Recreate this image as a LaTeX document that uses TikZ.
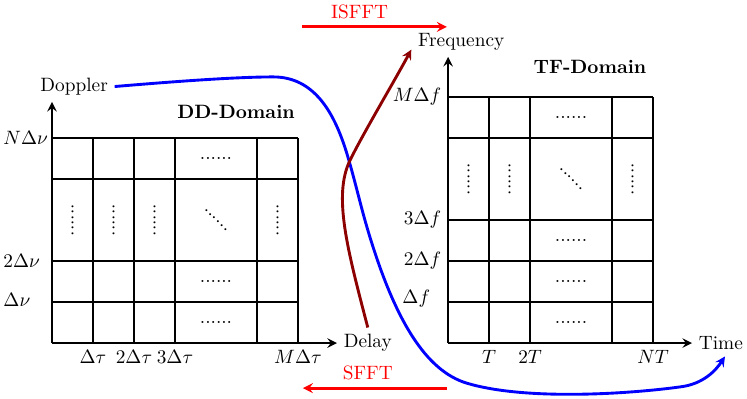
\documentclass[tikz,border=0pt]{standalone}
\begin{document}
\begin{tikzpicture}[>=stealth,
  every node/.style={scale=1.34},
  cell/.style={line width=1.1pt},
  ax/.style={->, line width=1.9pt},
  dts/.style={inner sep=0pt},
  flow/.style={->, line width=2pt}]
\useasboundingbox (-1.268,-1.341) rectangle (16.95,8.366);
% DD grid
\foreach \x in {1,2,3,5,6} \draw[cell] (\x,0) -- (\x,5);
\foreach \y in {1,2,4,5} \draw[cell] (0,\y) -- (6,\y);
\coordinate (o1) at (0,0);
\coordinate (x1) at (6.95,0);
\coordinate (y1) at (0,5.88);
\draw[ax] (o1) -- (x1);
\draw[ax] (o1) -- (y1);
\node[right] (del) at (x1) {Delay};
\node[anchor=south] (dop) at (0.54,5.88) {Doppler};
\node (ddt) at (4.49,5.63) {\bfseries DD-Domain};
\node[anchor=west] (nv) at (-1.35,5) {$N\Delta\nu$};
\node[anchor=west] (v2) at (-1.35,2) {$2\Delta\nu$};
\node[anchor=west] (v1) at (-1.35,1.05) {$\Delta\nu$};
\node[below] (t1) at (1,0) {$\Delta\tau$};
\node[below] (t2) at (2,0) {$2\Delta\tau$};
\node[below] (t3) at (3,0) {$3\Delta\tau$};
\node[below] (tm) at (6,0) {$M\Delta\tau$};
\foreach \y [count=\i] in {0.5,1.5,4.5} \node[dts] (hd\i) at (4,\y) {......};
\foreach \x [count=\i] in {0.5,1.5,2.5,5.5} \node[dts, rotate=90] (vd\i) at (\x,3) {......};
\node[dts, rotate=-45] (dg1) at (4,3) {......};
% TF grid
\begin{scope}[xshift=9.66cm]
\foreach \x in {1,2,4,5} \draw[cell] (\x,0) -- (\x,6);
\foreach \y in {1,2,3,5,6} \draw[cell] (0,\y) -- (5,\y);
\coordinate (o2) at (0,0);
\coordinate (x2) at (5.95,0);
\coordinate (y2) at (0,6.98);
\draw[ax] (o2) -- (x2);
\draw[ax] (o2) -- (y2);
\node[right] (time) at (x2) {Time};
\node[anchor=south] (freq) at (0.32,6.98) {Frequency};
\node (tft) at (3.46,6.73) {\bfseries TF-Domain};
\node[left] (fm) at (0,6) {$M\Delta f$};
\node[left] (f3) at (0,3) {$3\Delta f$};
\node[left] (f2) at (0,2) {$2\Delta f$};
\node[anchor=west] (f1) at (-1.28,1.07) {$\Delta f$};
\node[below] (s1) at (1,0) {$T$};
\node[below] (s2) at (2,0) {$2T$};
\node[below] (sn) at (5,0) {$NT$};
\foreach \y [count=\i] in {0.5,1.5,2.5,5.5} \node[dts] (hf\i) at (3,\y) {......};
\foreach \x [count=\i] in {0.5,1.5,4.5} \node[dts, rotate=90] (vf\i) at (\x,4) {......};
\node[dts, rotate=-45] (dg2) at (3,4) {......};
\end{scope}
% transforms
\coordinate (isA) at (6.10,7.71);
\coordinate (isB) at (9.63,7.71);
\coordinate (sfA) at (9.63,-1.10);
\coordinate (sfB) at (6.12,-1.10);
\draw[flow, red] (isA) -- node[above, xshift=-0.27cm] (isfft) {ISFFT} (isB);
\draw[flow, red] (sfA) -- node[above, xshift=-0.13cm] (sfft) {SFFT} (sfB);
\draw[flow, blue] (dop.east) .. controls (3,6.38) and (4.5,6.49) .. (5.4,6.49)
  .. controls (6.4,6.49) and (6.85,5.6) .. (7.1,4.9)
  .. controls (7.3,4.34) and (7.5,3.44) .. (7.68,2.83)
  .. controls (8.35,0.55) and (9.12,-0.68) .. (10.12,-0.98)
  .. controls (11.52,-1.4) and (14,-1.25) .. (15.32,-1.07)
  .. controls (15.9,-1.0) and (16.2,-0.65) .. ([xshift=1mm]time.south);
\draw[flow, red!55!black] (del.north) .. controls (7.2,2.3) and (6.85,3.6) .. (7.27,4.46)
  .. controls (7.6,5.13) and (8.3,6.3) .. ([yshift=-2mm]freq.west);
\end{tikzpicture}
\end{document}
